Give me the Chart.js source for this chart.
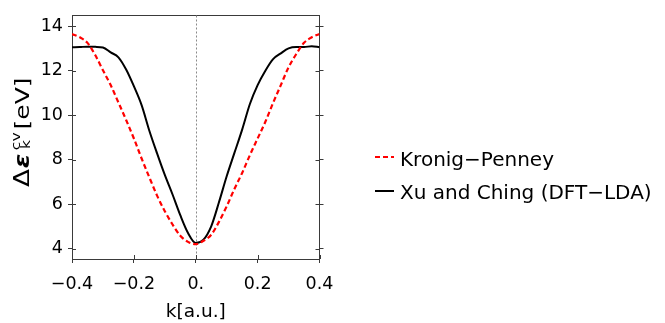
<!DOCTYPE html>
<html>
<head>
<meta charset="utf-8">
<script src="https://cdn.jsdelivr.net/npm/chart.js@4.4.0/dist/chart.umd.min.js"></script>
<style>
html,body{margin:0;padding:0;background:#fff;}
#wrap{width:665px;height:323px;position:relative;}
</style>
</head>
<body>
<div id="wrap"><canvas id="c" width="665" height="323"></canvas></div>
<script>
// ---- data ----
const kValues = [-0.4,-0.375,-0.35,-0.325,-0.3,-0.275,-0.25,-0.225,-0.2,-0.175,-0.15,-0.125,-0.1,-0.075,-0.05,-0.025,0,
                 0.025,0.05,0.075,0.1,0.125,0.15,0.175,0.2,0.225,0.25,0.275,0.3,0.325,0.35,0.375,0.4];
const kronigPenney = [13.65,13.5,13.25,12.7,12.02,11.35,10.57,9.78,8.95,8.05,7.2,6.38,5.68,5.08,4.58,4.3,4.2,
                      4.35,4.62,5.2,5.9,6.68,7.4,8.2,8.95,9.7,10.55,11.35,12.15,12.75,13.25,13.5,13.65];
const xuChing = [13.05,13.06,13.08,13.07,13.04,12.82,12.6,12.05,11.3,10.45,9.3,8.28,7.31,6.43,5.5,4.7,4.25,
                 4.4,5.0,6.08,7.25,8.3,9.35,10.5,11.35,12.0,12.52,12.78,13.0,13.06,13.06,13.1,13.05];
const seriesNames = ['Kronig\u2212Penney', 'Xu and Ching (DFT\u2212LDA)'];
const xTicks = [-0.4, -0.2, 0, 0.2, 0.4];
const xTickLabels = ['\u22120.4', '\u22120.2', '0.', '0.2', '0.4'];
const yTicks = [4, 6, 8, 10, 12, 14];
const yTickLabels = ['4', '6', '8', '10', '12', '14'];
const xTitle = 'k[a.u.]';
const yTitleParts = {delta: '\u0394', eps: '\u03b5', sup: 'cv', sub: 'k', unit: '[eV]'};

// ---- chart ----
const X_MIN = -0.4, X_MAX = 0.4, Y_MIN = 3.53, Y_MAX = 14.48;
const FRAME = '#3a3a3a';
const TICKFONT = {family: 'DejaVu Sans', size: 17.5};

const pointsOf = (ys) => kValues.map((k, i) => ({x: k, y: ys[i]}));

const extras = {
  id: 'extras',
  beforeDatasetsDraw(chart) {
    const {ctx, chartArea: a, scales} = chart;
    const px = scales.x.getPixelForValue(0);
    ctx.save();
    ctx.strokeStyle = '#8a8a8a';
    ctx.lineWidth = 1;
    ctx.setLineDash([2, 2]);
    ctx.beginPath();
    ctx.moveTo(Math.round(px) + 0.5, a.top);
    ctx.lineTo(Math.round(px) + 0.5, a.bottom);
    ctx.stroke();
    ctx.restore();
  },
  afterDraw(chart) {
    const {ctx, chartArea: a, scales} = chart;
    ctx.save();
    // inward halves of the tick marks
    ctx.strokeStyle = FRAME;
    ctx.lineWidth = 1;
    ctx.beginPath();
    scales.x.ticks.forEach(t => {
      const p = Math.round(scales.x.getPixelForValue(t.value)) + 0.5;
      ctx.moveTo(p, a.bottom); ctx.lineTo(p, a.bottom - 4);
    });
    scales.y.ticks.forEach(t => {
      const p = Math.round(scales.y.getPixelForValue(t.value)) + 0.5;
      ctx.moveTo(a.left, p); ctx.lineTo(a.left + 4, p);
      ctx.moveTo(a.right, p); ctx.lineTo(a.right - 4, p);
    });
    ctx.stroke();

    // y-axis title (rotated, with stacked sub/superscript)
    ctx.translate(29, 187);
    ctx.rotate(-Math.PI / 2);
    ctx.scale(1.25, 1);
    ctx.fillStyle = '#000';
    ctx.textBaseline = 'alphabetic';
    ctx.textAlign = 'left';
    ctx.font = '21px "DejaVu Sans"';
    ctx.fillText(yTitleParts.delta, 0, 0);
    ctx.font = 'bold italic 21px "DejaVu Sans"';
    ctx.fillText(yTitleParts.eps, 15, 0);
    ctx.font = '12.5px "DejaVu Sans"';
    ctx.fillText(yTitleParts.sup, 29.5, -9);
    ctx.fillText(yTitleParts.sub, 30.5, 0.5);
    ctx.font = '20px "DejaVu Sans"';
    ctx.fillText(yTitleParts.unit, 46, 0);
    ctx.restore();

    // legend
    ctx.save();
    const lineY = [157, 191];
    const baseY = [165.5, 198.5];
    chart.data.datasets.forEach((ds, i) => {
      ctx.strokeStyle = ds.borderColor;
      ctx.lineWidth = 2;
      ctx.setLineDash(ds.borderDash || []);
      ctx.beginPath();
      ctx.moveTo(375, lineY[i]);
      ctx.lineTo(394, lineY[i]);
      ctx.stroke();
      ctx.setLineDash([]);
      ctx.fillStyle = '#000';
      ctx.font = '20px "DejaVu Sans"';
      ctx.textBaseline = 'alphabetic';
      ctx.textAlign = 'left';
      ctx.fillText(ds.label, 400, baseY[i]);
    });
    ctx.restore();
  }
};

new Chart(document.getElementById('c'), {
  type: 'line',
  data: {
    datasets: [
      {label: seriesNames[0], data: pointsOf(kronigPenney), borderColor: '#ff0000', borderWidth: 2.2,
       borderDash: [5, 3], pointRadius: 0, cubicInterpolationMode: 'monotone', xAxisID: 'x', yAxisID: 'y'},
      {label: seriesNames[1], data: pointsOf(xuChing), borderColor: '#000000', borderWidth: 2,
       pointRadius: 0, cubicInterpolationMode: 'monotone', xAxisID: 'x', yAxisID: 'y'}
    ]
  },
  options: {
    responsive: false,
    animation: false,
    devicePixelRatio: 1,
    layout: {padding: {left: 0, right: 345.5, top: 10, bottom: 0}},
    plugins: {legend: {display: false}, tooltip: {enabled: false}},
    scales: {
      x: {
        type: 'linear', position: 'bottom', min: X_MIN, max: X_MAX,
        afterBuildTicks: s => { s.ticks = xTicks.map(v => ({value: v})); },
        afterFit: s => { s.height = 64; },
        ticks: {callback: (v, i) => xTickLabels[i], font: TICKFONT, color: '#000', padding: 11, maxRotation: 0, autoSkip: false},
        grid: {drawOnChartArea: false, drawTicks: true, tickLength: 4, tickColor: FRAME, tickWidth: 1},
        border: {display: true, color: FRAME, width: 1},
        title: {display: true, text: xTitle, font: {family: 'DejaVu Sans', size: 18.5}, color: '#000', padding: {top: 0, bottom: 0}}
      },
      y: {
        type: 'linear', position: 'left', min: Y_MIN, max: Y_MAX,
        afterBuildTicks: s => { s.ticks = yTicks.map(v => ({value: v})); },
        afterFit: s => { s.width = 72; },
        ticks: {callback: (v, i) => yTickLabels[i], font: TICKFONT, color: '#000', padding: 5},
        grid: {drawOnChartArea: false, drawTicks: true, tickLength: 4, tickColor: FRAME, tickWidth: 1},
        border: {display: true, color: FRAME, width: 1}
      },
      x2: {
        type: 'linear', position: 'top', display: true, min: X_MIN, max: X_MAX,
        afterBuildTicks: s => { s.ticks = []; },
        afterFit: s => { s.height = 0; },
        ticks: {display: false},
        grid: {display: false},
        border: {display: true, color: FRAME, width: 1}
      },
      y2: {
        type: 'linear', position: 'right', display: true, min: Y_MIN, max: Y_MAX,
        afterBuildTicks: s => { s.ticks = yTicks.map(v => ({value: v})); },
        afterFit: s => { s.width = 0; },
        ticks: {display: false},
        grid: {drawOnChartArea: false, drawTicks: true, tickLength: 4, tickColor: FRAME, tickWidth: 1},
        border: {display: true, color: FRAME, width: 1}
      }
    }
  },
  plugins: [extras]
});
</script>
</body>
</html>
